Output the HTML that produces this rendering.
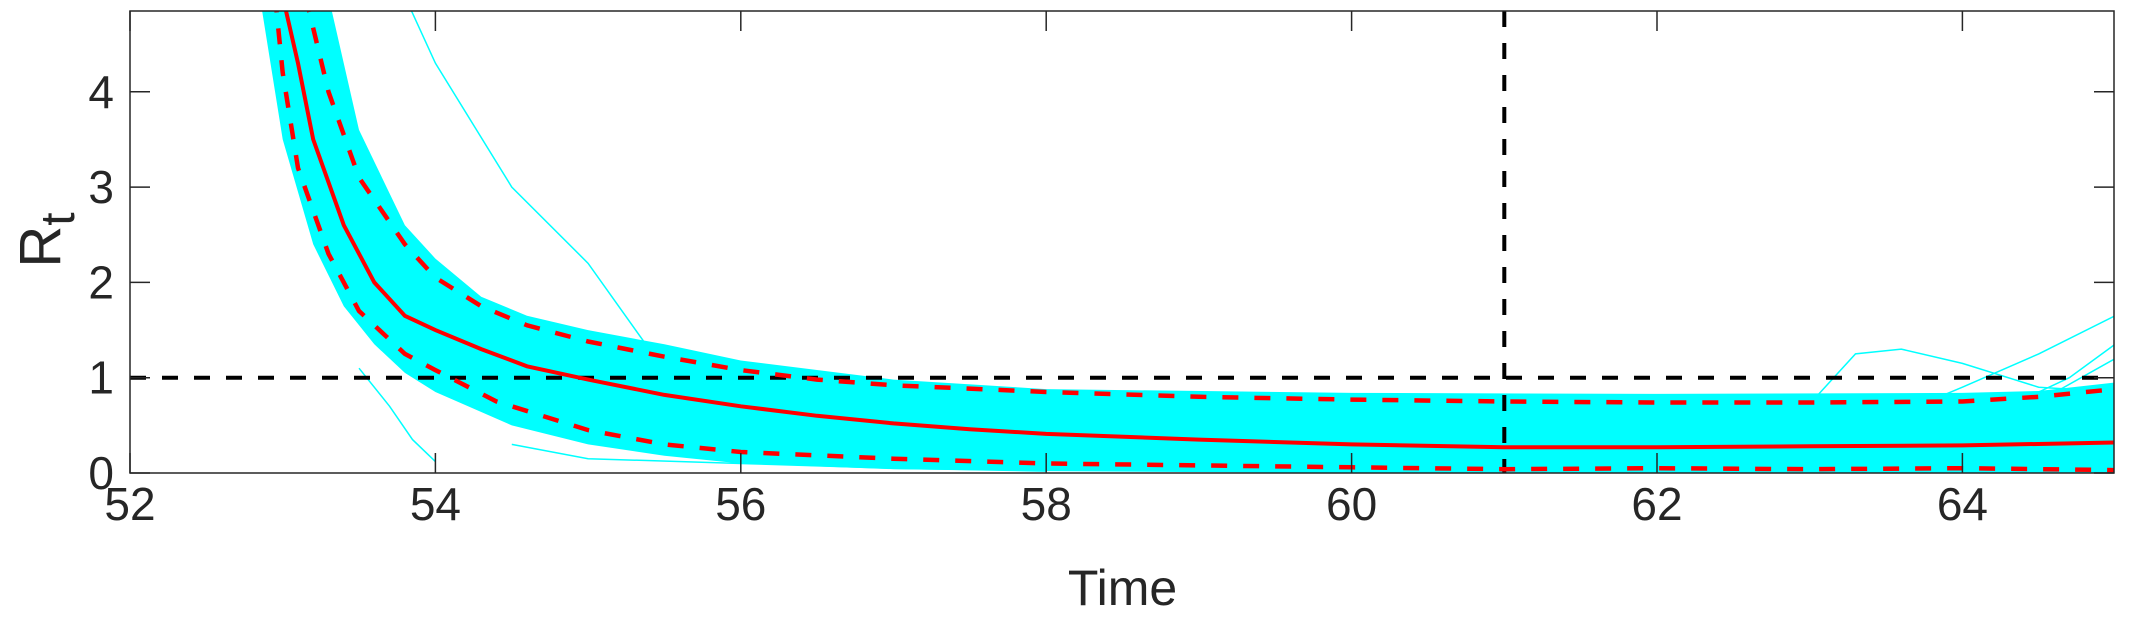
<!DOCTYPE html>
<html><head><meta charset="utf-8"><style>
body{margin:0;background:#fff;}
svg{display:block;}
text{font-family:"Liberation Sans",Arial,sans-serif;fill:#262626;}
</style></head><body>
<svg id="chart" width="2131" height="619" viewBox="0 0 2131 619">
<defs><clipPath id="clip"><rect x="130" y="11" width="1984" height="462"/></clipPath></defs>
<g id="plot" clip-path="url(#clip)"></g>
<g id="axes"></g>
</svg>
<script>
// ---- data ----
const medianT = [53.0,53.1,53.2,53.4,53.6,53.8,54,54.3,54.6,55,55.5,56,56.5,57,57.5,58,59,60,61,62,63,64,65];
const medianR = [5.0,4.3,3.5,2.6,2.0,1.65,1.5,1.3,1.12,0.98,0.82,0.7,0.6,0.52,0.46,0.41,0.35,0.3,0.27,0.27,0.28,0.29,0.32];
const upperT = [53.15,53.3,53.5,53.8,54,54.3,54.6,55,55.5,56,56.5,57,58,59,60,61,62,63,64,64.5,65];
const upperR = [5.0,4.0,3.1,2.4,2.05,1.75,1.55,1.38,1.22,1.08,0.98,0.92,0.85,0.8,0.77,0.75,0.74,0.74,0.75,0.8,0.88];
const lowerT = [52.95,53.0,53.1,53.3,53.5,53.8,54,54.4,55,55.5,56,57,58,59,60,61,62,63,64,65];
const lowerR = [5.0,4.2,3.2,2.3,1.7,1.25,1.08,0.75,0.45,0.3,0.22,0.15,0.1,0.08,0.06,0.04,0.05,0.04,0.05,0.03];
const bandTopT = [53.3,53.5,53.8,54,54.3,54.6,55,55.5,56,57,58,60,62,64,64.5,65];
const bandTopR = [5.0,3.6,2.6,2.25,1.85,1.65,1.5,1.35,1.18,0.98,0.88,0.84,0.83,0.84,0.86,0.95];
const bandBotT = [52.85,53.0,53.2,53.4,53.6,53.8,54,54.5,55,55.5,56,57,58,60,62,65];
const bandBotR = [5.0,3.5,2.4,1.75,1.35,1.05,0.85,0.5,0.3,0.18,0.1,0.04,0.02,0,0,0];
const outlierT = [[53.8,54.0,54.5,55.0,55.4,55.7,56.2],[53.5,53.7,53.85,54.0],[54.5,55,56,57,58],[62.9,63.3,63.6,64.0,64.5,65],[63.4,64.0,64.5,65],[64.3,64.7,65],[64.5,65]];
const outlierR = [[5.0,4.3,3.0,2.2,1.3,0.58,0.2],[1.1,0.7,0.35,0.12],[0.3,0.15,0.1,0.05,0.02],[0.55,1.25,1.3,1.15,0.9,0.85],[0.5,0.9,1.25,1.65],[0.7,1.0,1.35],[0.75,1.2]];
const xTicks = [52,54,56,58,60,62,64];
const yTicks = [0,1,2,3,4];
// ---- scales ----
const X = t => 130 + (t-52)*152.7;
const Y = r => 473 - r*95.3;
const NS = "http://www.w3.org/2000/svg";
const plot = document.getElementById('plot'), axes = document.getElementById('axes');
function path(ts, rs){return ts.map((t,i)=>(i?'L':'M')+X(t).toFixed(1)+','+Y(rs[i]).toFixed(1)).join('');}
function mk(tag, parent, attrs){const e=document.createElementNS(NS,tag);for(const k in attrs)e.setAttribute(k,attrs[k]);parent.appendChild(e);return e;}
let bd = path(bandTopT,bandTopR) + path(bandBotT.slice().reverse(),bandBotR.slice().reverse()).replace('M','L') + 'Z';
let band = mk('path',plot,{d:bd,fill:'#00ffff'});


outlierT.forEach((ts,i)=>{
  const o = mk('path',plot,{d:path(ts,outlierR[i]),fill:'none',stroke:'#00ffff','stroke-width':1.5});
  
  
});
let h = mk('line',plot,{x1:130,x2:2114,y1:Y(1),y2:Y(1),stroke:'#000','stroke-width':4,'stroke-dasharray':'16 16'});


let v = mk('line',plot,{x1:X(61),x2:X(61),y1:11,y2:473,stroke:'#000','stroke-width':4,'stroke-dasharray':'16 16'});


let up = mk('path',plot,{d:path(upperT,upperR),fill:'none',stroke:'#ff0000','stroke-width':4.5,'stroke-dasharray':'16 16'});


let lo = mk('path',plot,{d:path(lowerT,lowerR),fill:'none',stroke:'#ff0000','stroke-width':4.5,'stroke-dasharray':'16 16'});


let md = mk('path',plot,{d:path(medianT,medianR),fill:'none',stroke:'#ff0000','stroke-width':4});


let box = mk('rect',axes,{x:130,y:11,width:1984,height:462,fill:'none',stroke:'#262626','stroke-width':1.5});


xTicks.forEach(t=>{
  mk('line',axes,{x1:X(t),x2:X(t),y1:473,y2:453,stroke:'#262626','stroke-width':1.5});
  mk('line',axes,{x1:X(t),x2:X(t),y1:11,y2:31,stroke:'#262626','stroke-width':1.5});
  const tx = mk('text',axes,{x:X(t),y:520,'text-anchor':'middle','font-size':46});
  tx.textContent = t;
  
  
});
yTicks.forEach(r=>{
  mk('line',axes,{x1:130,x2:150,y1:Y(r),y2:Y(r),stroke:'#262626','stroke-width':1.5});
  mk('line',axes,{x1:2114,x2:2094,y1:Y(r),y2:Y(r),stroke:'#262626','stroke-width':1.5});
  const tx = mk('text',axes,{x:114,y:Y(r)+16,'text-anchor':'end','font-size':46});
  tx.textContent = r;
  
  
});
const xl = mk('text',axes,{x:X(58.5),y:605,'text-anchor':'middle','font-size':50});
xl.textContent='Time';


const yl = mk('text',axes,{transform:'translate(60,240) rotate(-90)','text-anchor':'middle','font-size':58});
yl.innerHTML='R<tspan dy="14" font-size="48">t</tspan>';


</script>
</body></html>
